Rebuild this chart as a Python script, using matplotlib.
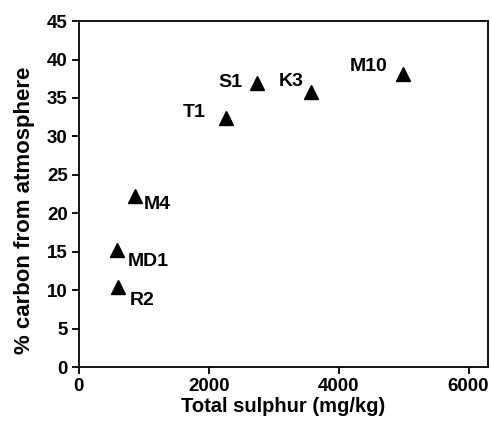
import matplotlib
matplotlib.use("Agg")
import matplotlib.pyplot as plt

plt.rcParams['font.family'] = ['Liberation Sans', 'DejaVu Sans']
plt.rcParams['font.weight'] = 'bold'

# data
sites = ["T1", "S1", "K3", "M10", "M4", "MD1", "R2"]
sulphur = [2260, 2740, 3580, 4985, 860, 580, 595]
carbon_atm = [32.4, 36.9, 35.8, 38.1, 22.2, 15.2, 10.4]

# label offsets in pixels (dx, dy) and horizontal alignment
label_off = {
    "T1": (-20, 5, "right"),
    "S1": (-14, 1, "right"),
    "K3": (-8, 10, "right"),
    "M10": (-15, 8, "right"),
    "M4": (9, -8, "left"),
    "MD1": (11, -11, "left"),
    "R2": (12, -13, "left"),
}

fig = plt.figure(figsize=(4.9, 4.21), dpi=100)
ax = fig.add_axes([0.161, 0.128, 0.835, 0.822])

ax.plot(sulphur, carbon_atm, "^", color="black", markersize=9.5, linestyle="none")

for name, xv, yv in zip(sites, sulphur, carbon_atm):
    dx, dy, ha = label_off[name]
    ax.annotate(name, (xv, yv), xytext=(dx * 0.72, dy * 0.72), textcoords="offset points",
                ha=ha, va="center", fontsize=14, fontweight="bold")

ax.set_xlim(0, 6300)
ax.set_ylim(0, 45)
ax.set_xticks([0, 2000, 4000, 6000])
ax.set_yticks(range(0, 46, 5))
ax.tick_params(direction="out", length=5, width=1.3, labelsize=13.5, pad=3)
for s in ax.spines.values():
    s.set_linewidth(1.3)

ax.set_xlabel("Total sulphur (mg/kg)", fontsize=14.5, fontweight="bold", labelpad=1)
ax.set_ylabel("% carbon from atmosphere", fontsize=16, fontweight="bold")
ax.yaxis.set_label_coords(-0.108, 0.454)

fig.savefig("out.png", dpi=100)
